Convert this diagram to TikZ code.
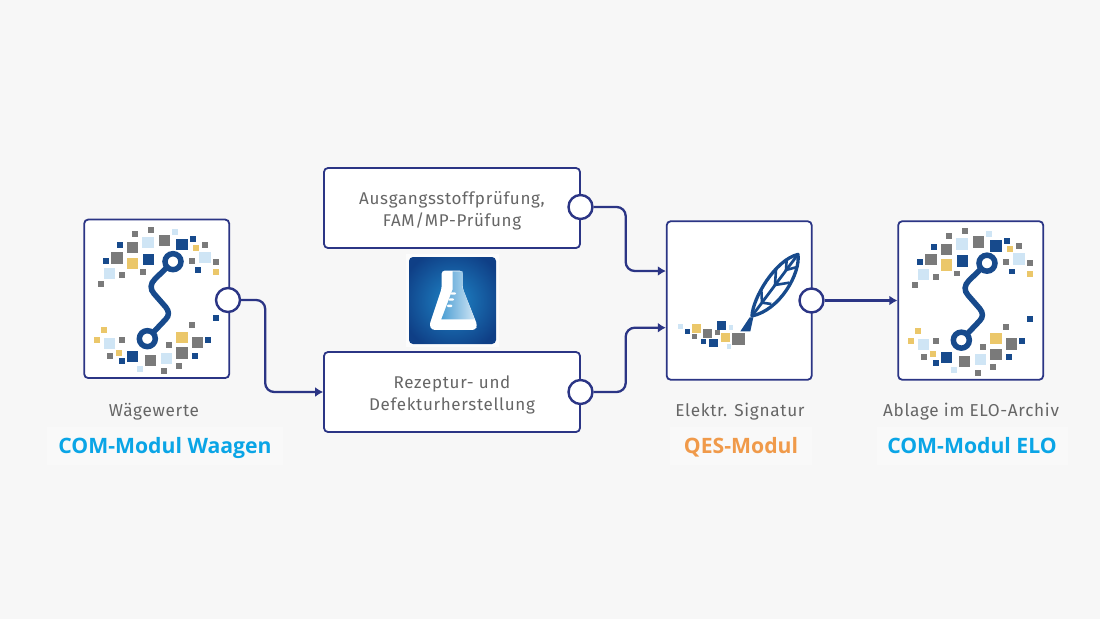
\documentclass[tikz,border=0pt]{standalone}
\usepackage{fontspec}
\setmainfont{Fira Sans}
\newfontfamily\boldlabel{Open Sans}
\usetikzlibrary{arrows.meta,shadings}
\definecolor{bgc}{HTML}{F7F7F7}
\definecolor{navy}{HTML}{2B3585}
\definecolor{lblue}{HTML}{174A8C}
\definecolor{sgray}{HTML}{7A7A7A}
\definecolor{slight}{HTML}{CFE5F5}
\definecolor{syellow}{HTML}{EBC76A}
\definecolor{txtgray}{HTML}{666666}
\definecolor{cyanlbl}{HTML}{0AA5E6}
\definecolor{orangelbl}{HTML}{F09A4A}
\definecolor{flaskdark}{HTML}{0F3F86}
\definecolor{flaskmid}{HTML}{1F86C8}
\tikzset{
  x=1pt,y=-1pt,
  modbox/.style={draw=navy,line width=1.8pt,fill=white,rounded corners=4pt,minimum width=256pt,minimum height=80pt,inner sep=0pt,
    font=\fontsize{17}{22.5}\selectfont\addfontfeature{LetterSpace=4},text=txtgray,align=center},
  iconbox/.style={draw=navy,line width=1.8pt,fill=white,rounded corners=4pt,minimum width=145pt,minimum height=158.5pt,inner sep=0pt},
  port/.style={draw=navy,line width=2.4pt,fill=white,circle,minimum size=24pt,inner sep=0pt},
  link/.style={draw=navy,line width=2.3pt,rounded corners=9pt,-{Latex[length=8pt,width=10pt]}},
  captext/.style={font=\fontsize{17.2}{20}\selectfont\addfontfeature{LetterSpace=4},text=txtgray,inner sep=0pt},
  modlabel/.style={font=\fontsize{21.2}{24}\selectfont\boldlabel\bfseries,fill=white!25!bgc,inner sep=0pt,minimum height=38pt,text height=20pt,text depth=4.4pt},
}
\newcommand{\sq}[4]{\fill[#1] (#2-#4/2-1,#3-#4/2-1) rectangle (#2+#4/2+1,#3+#4/2+1);}
\newcommand{\logoart}{%
  \foreach \a/\b/\c in {243/59/16,195/73/16,283/91/32,187/113/32,405/104/16,141/144/32,367/152/16,437/155/16,219/186/16,157/196/16,94/222/16,367/346/16,157/390/16,382/398/32,297/406/16,336/429/32,119/437/16,241/451/32,328/468/16,282/484/16}{\sq{sgray}{\a}{\b}{\c}}
  \foreach \a/\b/\c in {149/105/16,336/103/32,369/87/16,109/152/16,235/148/32,385/180/16,437/324/16,414/390/16,375/437/16,187/439/32,155/454/16}{\sq{lblue}{\a}{\b}{\c}}
  \foreach \a/\b/\c in {315/66/16,234/97/32,405/142/32,118/190/32,118/400/32,289/445/32,209/476/16}{\sq{slight}{\a}{\b}{\c}}
  \foreach \a/\b/\c in {377/113/16,187/160/32,437/187/16,103/359/16,82/390/16,336/382/32,147/429/16}{\sq{syellow}{\a}{\b}{\c}}
  \draw[lblue,line width=5.5pt] (309,155) circle (24);
  \draw[lblue,line width=5.5pt] (232,386) circle (24);
  \draw[lblue,line width=5.5pt,line cap=round] (291,172) -- (255,207) .. controls (240,221) and (240,238) .. (252,251) -- (287,291) .. controls (298,304) and (298,317) .. (287,328) -- (250,367);
}
\begin{document}
\begin{tikzpicture}
\useasboundingbox (0,0) rectangle (1100,619);
\fill[bgc] (0,0) rectangle (1100,619);

% boxes
\node[iconbox] (waagen) at (156.7,298.8) {};
\node[modbox] (pruef) at (452,208) {\rule{0pt}{19pt}Ausgangsstoffprüfung,\\FAM/MP-Prüfung};
\node[modbox] (rezept) at (452,392) {\rule{0pt}{19pt}Rezeptur- und\\Defekturherstellung};
\node[iconbox] (qes) at (739.2,300.5) {};
\node[iconbox] (elo) at (970.7,300.5) {};

% logo art
\begin{scope}[shift={(70,210)},x=0.3333pt,y=-0.3333pt]\logoart\end{scope}
\begin{scope}[shift={(884,211.5)},x=0.3333pt,y=-0.3333pt]\logoart\end{scope}

% feather art (zoomed coordinates)
\begin{scope}[shift={(640,210)},x=0.3333pt,y=-0.3333pt]
  \sq{slight}{120}{350}{13}\sq{lblue}{142}{365}{13}\sq{syellow}{169}{356}{24}\sq{sgray}{163}{381}{13}
  \sq{sgray}{202}{370}{25}\sq{lblue}{191}{394}{13}\sq{lblue}{221}{399}{24}\sq{lblue}{245}{346}{24}
  \sq{sgray}{232}{369}{13}\sq{slight}{273}{352}{13}\sq{syellow}{256}{382}{25}\sq{slight}{267}{410}{13}\sq{sgray}{296}{387}{35}
  \fill[lblue] (301,364) -- (329,322) -- (340,322) -- (331,364) -- cycle;
  \draw[lblue,line width=3.3pt,fill=white,line join=round] (336,318) .. controls (338,265) and (405,150) .. (474,133) .. controls (482,190) and (420,300) .. (336,318) -- cycle;
  \draw[lblue,line width=2.8pt] (336,318) -- (474,133);
  \draw[lblue,line width=2.6pt] (366,278) -- (364,240) (366,278) -- (394,282)
     (405,225) -- (408,180) (405,225) -- (448,218)
     (438,180) -- (440,150) (438,180) -- (468,172);
\end{scope}

% flask
\fill[white!60!bgc] (406,254) rectangle (499,347);
\begin{scope}
\clip[rounded corners=4pt] (409,257) rectangle (496,344);
\shade[inner color=flaskmid,outer color=flaskdark] (400,248) rectangle (505,353);
\end{scope}
\begin{scope}[shift={(400,250)},x=0.3333pt,y=-0.3333pt]
  \fill[white,rounded corners=3pt] (125,62) -- (188,62) -- (188,115) -- (232,226) -- (226,240) -- (96,240) -- (88,226) -- (125,115) -- cycle;
  \shade[left color=flaskmid!80!white,right color=slight] (158,64) -- (188,64) -- (188,115) -- (224,208) -- (124,208) -- (158,118) -- cycle;
  \fill[white,rounded corners=1pt] (152,127) rectangle (168,134) (146,145) rectangle (162,152) (141,164) rectangle (157,171);
\end{scope}

% ports
\node[port] (p1) at (228,300) {};
\node[port] (p2) at (580.5,207) {};
\node[port] (p3) at (580.5,392) {};
\node[port] (p4) at (811.5,300.5) {};

% connectors
\coordinate (qa) at (qes.west |- 0,271);
\coordinate (qb) at (qes.west |- 0,327.7);
\draw[link] (p1.east) -- ++(24,0) |- (rezept.west);
\draw[link] (p2.east) -- ++(32,0) |- (qa);
\draw[link] (p3.east) -- ++(32,0) |- (qb);
\draw[link] (p4.east) -- (elo.west);

% captions
\node[captext] (c1) at (154,411.5) {Wägewerte};
\node[captext] (c2) at (740,411.5) {Elektr. Signatur};
\node[captext] (c3) at (971,411.5) {Ablage im ELO-Archiv};
\node[modlabel,text=cyanlbl,minimum width=236pt] (l1) at (165,445.5) {COM-Modul Waagen};
\node[modlabel,text=orangelbl,minimum width=142pt] (l2) at (741,445.5) {QES-Modul};
\node[modlabel,text=cyanlbl,minimum width=191pt] (l3) at (972,445.5) {COM-Modul ELO};
\end{tikzpicture}
\end{document}
